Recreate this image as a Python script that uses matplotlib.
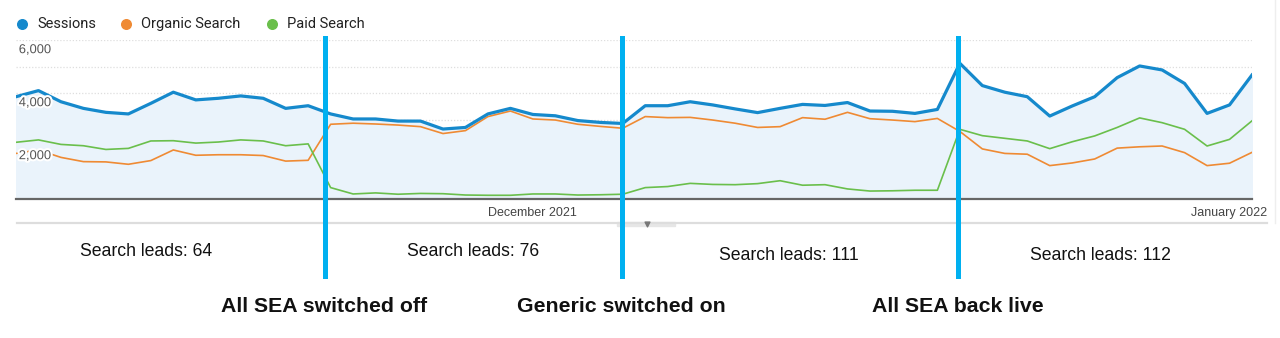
import matplotlib.pyplot as plt
import matplotlib.patheffects as pe
import numpy as np
import pandas as pd

# daily values, 8 Nov 2021 - 2 Jan 2022
dates = pd.date_range('2021-11-08', periods=56, freq='D')

sessions = [3860, 4090, 3670, 3420, 3270, 3210, 3610, 4030, 3740, 3800,
            3890, 3800, 3420, 3520, 3210, 3020, 3020, 2940, 2940, 2640,
            2700, 3210, 3420, 3190, 3140, 2960, 2890, 2850, 3520, 3520,
            3670, 3550, 3400, 3260, 3420, 3570, 3530, 3640, 3320, 3310,
            3230, 3380, 5120, 4280, 4030, 3860, 3130, 3510, 3860, 4580,
            5020, 4870, 4360, 3230, 3550, 4680]

organic = [1720, 1850, 1570, 1410, 1400, 1310, 1450, 1850, 1650, 1670,
           1670, 1640, 1430, 1460, 2820, 2860, 2830, 2790, 2730, 2470,
           2580, 3110, 3320, 3020, 2980, 2820, 2740, 2670, 3110, 3070,
           3080, 2980, 2860, 2700, 2730, 3070, 3010, 3270, 3030, 2980,
           2920, 3040, 2550, 1890, 1720, 1690, 1260, 1360, 1510, 1920,
           1970, 2000, 1750, 1260, 1350, 1760]

paid = [2140, 2230, 2060, 2010, 1870, 1910, 2190, 2200, 2110, 2150,
        2230, 2190, 2010, 2080, 430, 190, 230, 180, 210, 200,
        150, 140, 140, 190, 190, 150, 160, 180, 430, 470,
        590, 550, 540, 580, 690, 520, 540, 380, 300, 310,
        330, 330, 2630, 2390, 2290, 2190, 1900, 2160, 2380, 2700,
        3060, 2880, 2630, 2000, 2250, 2950]

series_names = ['Sessions', 'Organic Search', 'Paid Search']
series_colors = ['#1589cc', '#ef8a33', '#6abf4b']

y_ticks = [2000, 4000, 6000]

# campaign changes, in days after the first date
events = [13.75, 26.95, 41.9]
event_labels = ['All SEA switched off', 'Generic switched on', 'All SEA back live']
leads = [64, 76, 111, 112]

W, H = 1280, 338
fig = plt.figure(figsize=(W / 100, H / 100), dpi=100)

# pixel overlay for free text / legend
over = fig.add_axes([0, 0, 1, 1], zorder=0)
over.set_xlim(0, W)
over.set_ylim(H, 0)
over.axis('off')

ax = fig.add_axes([16 / W, 1 - 199 / H, 1236 / W, 159 / H], zorder=1)
ax.patch.set_alpha(0)

x = np.arange(len(dates))
ax.fill_between(x, sessions, 0, color='#eaf3fb', zorder=1)
for g in range(1000, 7000, 1000):
    ax.axhline(g, color='#dedede', lw=0.9, ls=(0, (1, 1.5)), zorder=0.5)
ax.plot(x, organic, color=series_colors[1], lw=1.2, zorder=3)
ax.plot(x, paid, color=series_colors[2], lw=1.2, zorder=3)
ax.plot(x, sessions, color=series_colors[0], lw=2.3, zorder=4)

ax.set_xlim(0, len(dates) - 1)
ax.set_ylim(0, 6000)
for s in ['top', 'right', 'left']:
    ax.spines[s].set_visible(False)
ax.spines['bottom'].set_color('#666666')
ax.spines['bottom'].set_linewidth(1.6)
ax.set_yticks([])

# month labels
month_idx = [i for i, d in enumerate(dates) if d.day == 1]
ax.set_xticks(month_idx)
ax.set_xticklabels([dates[i].strftime('%B %Y') for i in month_idx],
                   fontsize=9, color='#444444', family='Liberation Sans')
ax.tick_params(axis='x', length=0, pad=6)

for v in y_ticks:
    ax.annotate(f'{v:,}', xy=(0, v), xytext=(2, -3), textcoords='offset points',
                ha='left', va='top', fontsize=9.3, color='#555555',
                family='Liberation Sans', zorder=6,
                path_effects=[pe.withStroke(linewidth=3, foreground='white')])

# event markers
for e in events:
    ax.axvline(e, ymin=-0.485, ymax=1.013, color='#00b0f0', lw=3.6,
               clip_on=False, zorder=7)

# legend
leg_x = [22, 126, 272]
for lx, name, c in zip(leg_x, series_names, series_colors):
    over.scatter([lx], [24], s=48, color=c, zorder=2)
    over.text(lx + 15, 24, name, fontsize=10.5, color='#222222',
              family='Roboto', va='center', ha='left')

# footer rule and drag handle
over.plot([17, 1267], [223, 223], color='#dddddd', lw=1.6)
over.plot([1275, 1275], [0, 223], color='#eeeeee', lw=1)
over.add_patch(plt.Rectangle((617, 222), 58, 4, color='#e6e6e6', zorder=1))
over.scatter([647], [224], marker='v', s=12, color='#777777', zorder=2)

# text below the chart
lead_pos = [(80, 252), (407, 252), (719, 256), (1030, 256)]
for (px, py), n in zip(lead_pos, leads):
    over.text(px, py, f'Search leads: {n}', fontsize=12.7, color='#111111',
              family='Liberation Sans', va='center', ha='left')

event_pos = [221, 517, 872]
for px, lab in zip(event_pos, event_labels):
    over.text(px, 306, lab, fontsize=15.3, fontweight='bold', color='#111111',
              family='Liberation Sans', va='center', ha='left')

fig.savefig('out.png', dpi=100)
